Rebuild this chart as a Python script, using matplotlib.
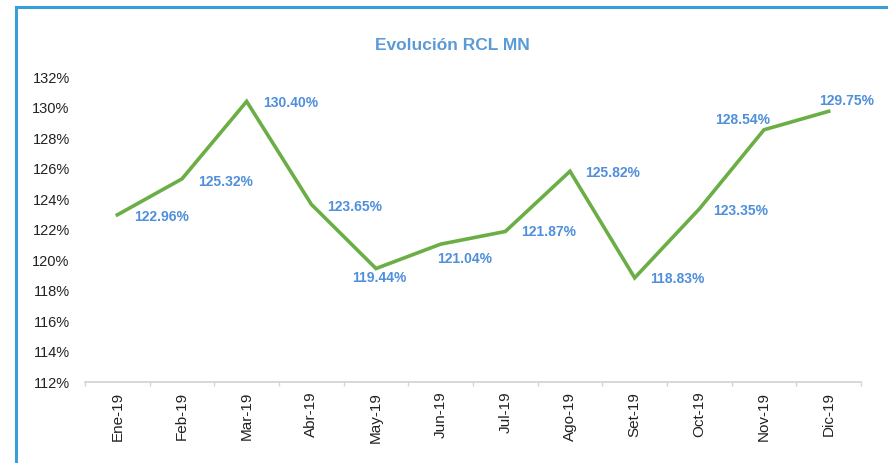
import matplotlib
matplotlib.use("Agg")
import matplotlib.pyplot as plt
from matplotlib.lines import Line2D
import numpy as np

months = ["Ene-19", "Feb-19", "Mar-19", "Abr-19", "May-19", "Jun-19",
          "Jul-19", "Ago-19", "Set-19", "Oct-19", "Nov-19", "Dic-19"]
rcl = [122.96, 125.32, 130.40, 123.65, 119.44, 121.04,
       121.87, 125.82, 118.83, 123.35, 128.54, 129.75]
yticks = [112, 114, 116, 118, 120, 122, 124, 126, 128, 130, 132]
title = "Evolución RCL MN"

FAM = ["Liberation Sans Narrow", "Liberation Sans", "DejaVu Sans"]
plt.rcParams["font.family"] = FAM

W, H = 888, 463
fig = plt.figure(figsize=(W / 100, H / 100), dpi=100)
fig.patch.set_facecolor("white")

# blue frame
border = "#3A9FD8"
fig.add_artist(Line2D([16 / W, 16 / W], [0, 1 - 7 / H], transform=fig.transFigure, color=border, lw=2.2))
fig.add_artist(Line2D([16 / W, 1], [1 - 7 / H, 1 - 7 / H], transform=fig.transFigure, color=border, lw=2.2))

left, right = 85 / W, 861 / W
bottom, top = 1 - 382 / H, 1 - 77 / H
ax = fig.add_axes([left, bottom, right - left, top - bottom])

x = np.arange(len(months))
ax.plot(x, rcl, color="#6AAE45", lw=2.6, solid_joinstyle="miter", zorder=3)

ax.set_xlim(-0.5, len(months) - 0.5)
ax.set_ylim(112, 132)
ax.set_yticks(yticks)
ax.set_yticklabels([f"{v}%" for v in yticks])
ax.set_xticks(x)
ax.set_xticklabels(months, rotation=90)
ax.set_xticks(np.arange(-0.5, len(months), 1), minor=True)

for s in ["top", "right", "left"]:
    ax.spines[s].set_visible(False)
ax.spines["bottom"].set_color("#d4d4d4")
ax.spines["bottom"].set_linewidth(1.3)

ax.tick_params(axis="y", length=0, pad=11, labelsize=10.5, labelcolor="#222222")
ax.tick_params(axis="x", which="major", length=0, pad=7, labelsize=11, labelcolor="#222222")
ax.tick_params(axis="x", which="minor", length=3, color="#d4d4d4", width=1)

# data labels: (dx, dy in pixels, ha)
offsets = [(17, -2, "left"), (16, -3, "left"), (16, -2, "left"), (16, -3, "left"),
           (3, -9, "center"), (-4, -15, "left"), (16, -1, "left"), (15, -2, "left"),
           (15, -1, "left"), (14, -2, "left"), (-21, 10, "center"), (18, 10, "center")]
lab_color = "#4F8FDB"
for xi, v, (dx, dy, ha) in zip(x, rcl, offsets):
    ax.annotate(f"{v:.2f}%", (xi, v), xytext=(dx, dy), textcoords="offset pixels",
                ha=ha, va="center", color=lab_color, fontsize=10, fontweight="bold")

fig.text(452 / W, 1 - 45 / H, title, ha="center", va="center", color="#5B9BD5",
         fontsize=12.5, fontweight="bold")

fig.savefig("out.png", dpi=100, facecolor="white")
